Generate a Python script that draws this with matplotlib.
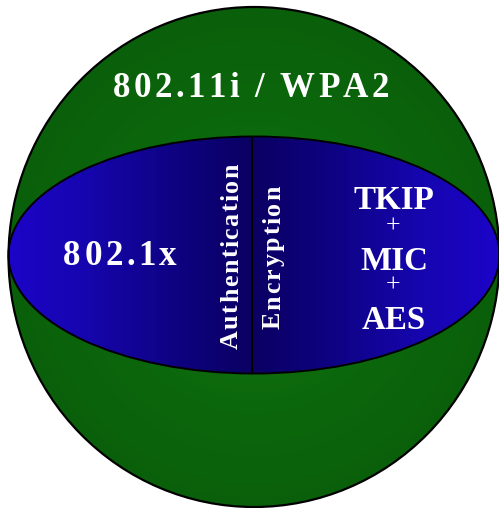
import numpy as np
import matplotlib
matplotlib.use("Agg")
import matplotlib.pyplot as plt
from matplotlib.patches import Ellipse
from matplotlib.colors import LinearSegmentedColormap
from matplotlib.font_manager import FontProperties, findfont, get_font

# diagram texts
title = "802.11i / WPA2"
left_label = "802.1x"
band_labels = ["Authentication", "Encryption"]
right_stack = ["TKIP", "MIC", "AES"]
joiner = "+"

W, H, DPI = 499, 508, 100
fig = plt.figure(figsize=(W / DPI, H / DPI), dpi=DPI)
ax = fig.add_axes([0, 0, 1, 1])
ax.set_xlim(0, W)
ax.set_ylim(H, 0)
ax.axis("off")

# outer sphere with soft radial gradient
cx, cy = 254, 257
sphere = Ellipse((cx, cy), 491, 500, facecolor="none", edgecolor="black", lw=1.6, zorder=3)
ax.add_patch(sphere)
yy, xx = np.mgrid[0:H, 0:W]
r = np.sqrt(((xx - cx) / 245.0) ** 2 + ((yy - 262) / 250.0) ** 2)
green = LinearSegmentedColormap.from_list(
    "g", [(0, "#1a7c12"), (0.55, "#0c680c"), (1, "#0a600a")])
im = ax.imshow(np.clip(r, 0, 1), cmap=green, vmin=0, vmax=1, extent=(0, W, H, 0), zorder=1)
im.set_clip_path(Ellipse((cx, cy), 491, 500, transform=ax.transData))

# blue band with horizontal gradient
ey = 255
band = Ellipse((cx, ey), 491, 237, facecolor="none", edgecolor="black", lw=1.4, zorder=4)
ax.add_patch(band)
t = np.abs(xx - 252) / 245.0
blue = LinearSegmentedColormap.from_list(
    "b", [(0, "#0b0062"), (0.3, "#0e0280"), (0.7, "#1606b0"), (1, "#1c04c8")])
im2 = ax.imshow(np.clip(t, 0, 1), cmap=blue, vmin=0, vmax=1, extent=(0, W, H, 0), zorder=2)
im2.set_clip_path(Ellipse((cx, ey), 491, 237, transform=ax.transData))
ax.plot([252, 252], [137, 373], color="black", lw=1.4, zorder=5)

serif = ["Liberation Serif", "DejaVu Serif"]


def spaced(x, y, s, px, track, rotation=0):
    # draw string char by char with extra tracking; x,y = start on baseline
    fp = FontProperties(family=serif, weight="bold", size=px * 72 / DPI)
    font = get_font(findfont(fp))
    font.set_size(px * 72 / DPI, DPI)
    pos = 0.0
    for c in s:
        if rotation == 0:
            ax.text(x + pos, y, c, fontproperties=fp, color="white",
                    ha="left", va="baseline", zorder=6)
        else:
            ax.text(x, y - pos, c, fontproperties=fp, color="white", rotation=90,
                    rotation_mode="anchor", ha="left", va="baseline", zorder=6)
        adv = font.load_char(ord(c)).linearHoriAdvance / 65536.0
        pos += adv + track
    return pos - track


def centered(xc, y, s, px, track, rotation=0):
    # measure first, then draw centred
    fp = FontProperties(family=serif, weight="bold", size=px * 72 / DPI)
    font = get_font(findfont(fp))
    font.set_size(px * 72 / DPI, DPI)
    total = sum(font.load_char(ord(c)).linearHoriAdvance / 65536.0 for c in s) + track * (len(s) - 1)
    if rotation == 0:
        spaced(xc - total / 2, y, s, px, track)
    else:
        spaced(y, xc + total / 2, s, px, track, rotation=90)


centered(251, 97, title, 35, 3.4)
centered(120, 265, left_label, 35, 3.4)
centered(256, 238, band_labels[0], 26, 1.5, rotation=90)
centered(257, 280, band_labels[1], 26, 2.0, rotation=90)

for label, yb in zip(right_stack, [209, 270, 329]):
    ax.text(394, yb, label, family=serif, weight="bold", fontsize=33 * 72 / DPI,
            color="white", ha="center", va="baseline", zorder=6)
for yc in [227, 286]:
    ax.text(393, yc, joiner, family=serif, fontsize=26 * 72 / DPI,
            color="white", ha="center", va="center", zorder=6)

fig.savefig("out.png", dpi=DPI)
